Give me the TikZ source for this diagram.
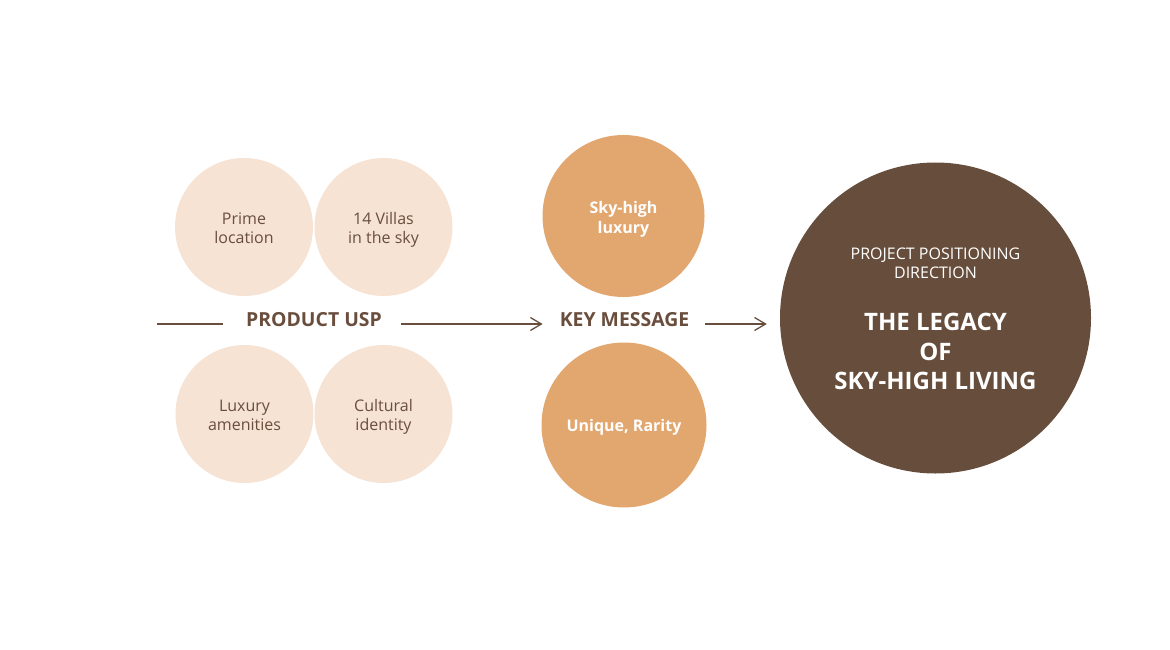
\documentclass[tikz,border=0pt]{standalone}
\usepackage{fontspec}
\setmainfont{Open Sans}
\usetikzlibrary{arrows.meta}
\definecolor{peach}{HTML}{F6E3D4}
\definecolor{orng}{HTML}{E2A66F}
\definecolor{darkbr}{HTML}{674D3B}
\definecolor{txtbr}{HTML}{6A4E3D}
\newcommand{\uspline}{\rule{0pt}{19.3pt}}
\tikzset{
  usp/.style={circle, fill=peach, minimum size=138pt, inner sep=0pt, text=txtbr, align=center, font=\fontsize{16}{19}\selectfont},
  keymsg/.style={circle, fill=orng, minimum size=162pt, inner sep=0pt, text=white, align=center, font=\fontsize{16}{20}\selectfont\bfseries},
  label/.style={inner sep=0pt, text=txtbr, font=\fontsize{19.4}{22}\selectfont\bfseries},
  conn/.style={draw=txtbr, line width=1.3pt},
  arr/.style={conn, -{Straight Barb[length=11pt,width=13pt,line width=1.3pt]}}
}
\begin{document}
\begin{tikzpicture}[x=1pt,y=-1pt]
\useasboundingbox (0,0) rectangle (1170,650);
\node[usp] (prime) at (244,227) {\uspline Prime\\\strut location};
\node[usp] (villas) at (383.5,227) {\uspline 14 Villas\\\strut in the sky};
\node[usp] (amen) at (244.5,414) {\uspline Luxury\\\strut amenities};
\node[usp] (cult) at (383.5,414) {\uspline Cultural\\\strut identity};
\node[keymsg] (sky) at (623.5,216) {\rule{0pt}{20pt}Sky-high\\\strut luxury};
\node[keymsg, minimum size=165pt] (uniq) at (624,425) {\rule{0pt}{18pt}\strut Unique, Rarity};
\node[circle, fill=darkbr, minimum size=311pt, inner sep=0pt] (legacy) at (935.5,318) {};
\node[text=white, align=center, inner sep=0pt, font=\fontsize{16}{19}\selectfont] (dir) at (935.5,265.5) {\strut PROJECT POSITIONING\\\strut DIRECTION};
\node[text=white, align=center, inner sep=0pt, font=\fontsize{24}{29.5}\selectfont\bfseries] (title) at (935.5,354.5) {\strut THE LEGACY\\\strut OF\\\strut SKY-HIGH LIVING};
\node[label] (uspl) at (314,320) {PRODUCT USP};
\node[label] (keyl) at (624.5,319.5) {KEY MESSAGE};
\coordinate (start) at (157,324);
\draw[conn, shorten >=23pt] (start) -- ([yshift=-4pt]uspl.west);
\draw[arr, shorten <=19pt, shorten >=17pt] ([yshift=-4pt]uspl.east) -- ([yshift=-4.5pt]keyl.west);
\draw[arr, shorten <=16pt, shorten >=13pt] ([yshift=-4.5pt]keyl.east) -- (legacy.west |- 0,324);
\end{tikzpicture}
\end{document}
